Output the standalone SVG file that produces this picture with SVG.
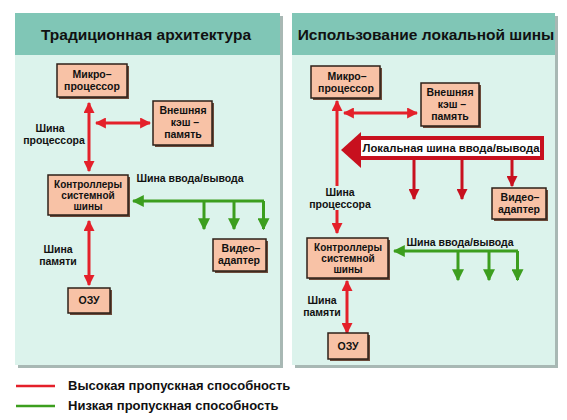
<svg xmlns="http://www.w3.org/2000/svg" width="567" height="420" viewBox="0 0 567 420">
<defs>
<marker id="ar" viewBox="0 0 10 10" refX="9" refY="5" markerWidth="11" markerHeight="11" markerUnits="userSpaceOnUse" orient="auto-start-reverse"><path d="M0,0 L10,5 L0,10 z" fill="#e4202a"/></marker>
<marker id="adr" viewBox="0 0 10 10" refX="9" refY="5" markerWidth="11" markerHeight="11" markerUnits="userSpaceOnUse" orient="auto-start-reverse"><path d="M0,0 L10,5 L0,10 z" fill="#c8101e"/></marker>
<marker id="ag" viewBox="0 0 10 10" refX="9" refY="5" markerWidth="12" markerHeight="12" markerUnits="userSpaceOnUse" orient="auto-start-reverse"><path d="M0,0 L10,5 L0,10 z" fill="#3c9e1e"/></marker>
</defs>
<style>
text{font-family:"Liberation Sans",Arial,sans-serif;font-weight:bold;fill:#111}
.title{font-size:15.5px;text-anchor:middle}
.n{font-size:10.5px;text-anchor:middle}
.n3{font-size:10px;text-anchor:middle}
.lbl{font-size:10.5px;text-anchor:middle}
.leg{font-size:13px}
.box{fill:#f8c2a6;stroke:#2e2018;stroke-width:1.5}
.sh{fill:#6b4a3a}
.hdr{fill:#80c6b6}
.body{fill:#dcf3ec}
.psh{fill:#a8b8b4}
.red{stroke:#e4202a;stroke-width:3;fill:none}
.dred{stroke:#c8101e;stroke-width:3;fill:none}
.grn{stroke:#3c9e1e;stroke-width:3;fill:none}
</style>
<rect width="567" height="420" fill="#ffffff"/>

<!-- panels -->
<g id="panel-left">
<rect class="psh" x="18" y="16" width="265" height="352"/>
<rect class="body" x="15" y="13" width="265" height="352"/>
<rect class="hdr" x="15" y="13" width="265" height="42"/>
<text class="title" x="146" y="40">Традиционная архитектура</text>
</g>
<g id="panel-right">
<rect class="psh" x="295" y="16" width="263" height="352"/>
<rect class="body" x="292" y="13" width="263" height="352"/>
<rect class="hdr" x="292" y="13" width="263" height="42"/>
<text class="title" x="426" y="40">Использование локальной шины</text>
</g>

<!-- connectors -->
<g id="connectors">
<!-- left -->
<line class="red" x1="96" y1="123" x2="150" y2="123" marker-start="url(#ar)" marker-end="url(#ar)"/>
<line class="red" x1="89" y1="103" x2="89" y2="171" marker-start="url(#ar)" marker-end="url(#ar)"/>
<line class="red" x1="89" y1="221" x2="89" y2="285" marker-start="url(#ar)" marker-end="url(#ar)"/>
<line class="grn" x1="133" y1="201" x2="264" y2="201" marker-start="url(#ag)"/>
<line class="grn" x1="204" y1="201" x2="204" y2="229" marker-end="url(#ag)"/>
<line class="grn" x1="234" y1="201" x2="234" y2="229" marker-end="url(#ag)"/>
<line class="grn" x1="263.5" y1="201" x2="263.5" y2="229" marker-end="url(#ag)"/>
<!-- right -->
<line class="red" x1="344" y1="113" x2="417" y2="113" marker-start="url(#ar)" marker-end="url(#ar)"/>
<line class="red" x1="337" y1="101" x2="337" y2="186" marker-start="url(#ar)"/>
<line class="red" x1="337" y1="210" x2="337" y2="233" marker-end="url(#ar)"/>
<line class="red" x1="347" y1="281" x2="347" y2="333" marker-start="url(#ar)" marker-end="url(#ar)"/>
<line class="dred" x1="414" y1="158" x2="414" y2="199" marker-end="url(#adr)"/>
<line class="dred" x1="462" y1="158" x2="462" y2="199" marker-end="url(#adr)"/>
<line class="dred" x1="512" y1="158" x2="512" y2="186" marker-end="url(#adr)"/>
<line class="grn" x1="394" y1="251" x2="518" y2="251" marker-start="url(#ag)"/>
<line class="grn" x1="458" y1="251" x2="458" y2="280" marker-end="url(#ag)"/>
<line class="grn" x1="489" y1="251" x2="489" y2="280" marker-end="url(#ag)"/>
<line class="grn" x1="517.5" y1="251" x2="517.5" y2="280" marker-end="url(#ag)"/>
</g>

<!-- labels -->
<g id="labels">
<text class="lbl" x="50" y="132">Шина</text>
<text class="lbl" x="54" y="144">процессора</text>
<text class="lbl" x="190" y="182">Шина ввода/вывода</text>
<text class="lbl" x="58" y="253">Шина</text>
<text class="lbl" x="58" y="265">памяти</text>
<text class="lbl" x="340" y="196">Шина</text>
<text class="lbl" x="340" y="208">процессора</text>
<text class="lbl" x="460" y="246">Шина ввода/вывода</text>
<text class="lbl" x="322" y="304">Шина</text>
<text class="lbl" x="322" y="316">памяти</text>
</g>

<!-- left nodes -->
<g id="cpu-left">
<rect class="sh" x="59" y="66" width="70" height="33"/>
<rect class="box" x="57" y="64" width="70" height="33"/>
<text class="n" x="92" y="78">Микро–</text>
<text class="n" x="92" y="90">процессор</text>
</g>
<g id="cache-left">
<rect class="sh" x="155" y="103" width="59" height="44"/>
<rect class="box" x="153" y="101" width="59" height="44"/>
<text class="n" x="183" y="114">Внешняя</text>
<text class="n" x="185" y="126">кэш –</text>
<text class="n" x="183" y="138">память</text>
</g>
<g id="ctrl-left">
<rect class="sh" x="50" y="177" width="80" height="40"/>
<rect class="box" x="48" y="175" width="80" height="40"/>
<text class="n3" x="88" y="188">Контроллеры</text>
<text class="n3" x="88" y="199">системной</text>
<text class="n3" x="88" y="210">шины</text>
</g>
<g id="video-left">
<rect class="sh" x="215" y="241" width="53" height="32"/>
<rect class="box" x="213" y="239" width="53" height="32"/>
<text class="n" x="241" y="252">Видео–</text>
<text class="n" x="239" y="264">адаптер</text>
</g>
<g id="ram-left">
<rect class="sh" x="70" y="290" width="42" height="25"/>
<rect class="box" x="68" y="288" width="42" height="25"/>
<text class="n" x="89" y="304">ОЗУ</text>
</g>

<!-- right nodes -->
<g id="cpu-right">
<rect class="sh" x="313" y="68" width="69" height="32"/>
<rect class="box" x="311" y="66" width="69" height="32"/>
<text class="n" x="347" y="80">Микро–</text>
<text class="n" x="346" y="92">процессор</text>
</g>
<g id="cache-right">
<rect class="sh" x="423" y="85" width="58" height="43"/>
<rect class="box" x="421" y="83" width="58" height="43"/>
<text class="n" x="450" y="96">Внешняя</text>
<text class="n" x="452" y="108">кэш –</text>
<text class="n" x="450" y="120">память</text>
</g>
<g id="local-bus">
<polygon points="341,150 361,132 361,168" fill="#c8101e"/>
<rect x="359" y="138" width="183" height="20" fill="#ffffff" stroke="#c8101e" stroke-width="4"/>
<text x="451" y="152" font-size="11.3" text-anchor="middle">Локальная шина ввода/вывода</text>
</g>
<g id="video-right">
<rect class="sh" x="494" y="190" width="54" height="31"/>
<rect class="box" x="492" y="188" width="54" height="31"/>
<text class="n" x="520" y="201">Видео–</text>
<text class="n" x="519" y="213">адаптер</text>
</g>
<g id="ctrl-right">
<rect class="sh" x="309" y="240" width="81" height="40"/>
<rect class="box" x="307" y="238" width="81" height="40"/>
<text class="n3" x="348" y="251">Контроллеры</text>
<text class="n3" x="348" y="262">системной</text>
<text class="n3" x="348" y="273">шины</text>
</g>
<g id="ram-right">
<rect class="sh" x="330" y="335" width="40" height="26"/>
<rect class="box" x="328" y="333" width="40" height="26"/>
<text class="n" x="348" y="350">ОЗУ</text>
</g>

<!-- legend -->
<g id="legend">
<line x1="16" y1="386" x2="55" y2="386" stroke="#e4202a" stroke-width="2.5"/>
<line x1="16" y1="406" x2="55" y2="406" stroke="#3c9e1e" stroke-width="2.5"/>
<text class="leg" x="68" y="390">Высокая пропускная способность</text>
<text class="leg" x="68" y="410">Низкая пропускная способность</text>
</g>
</svg>
